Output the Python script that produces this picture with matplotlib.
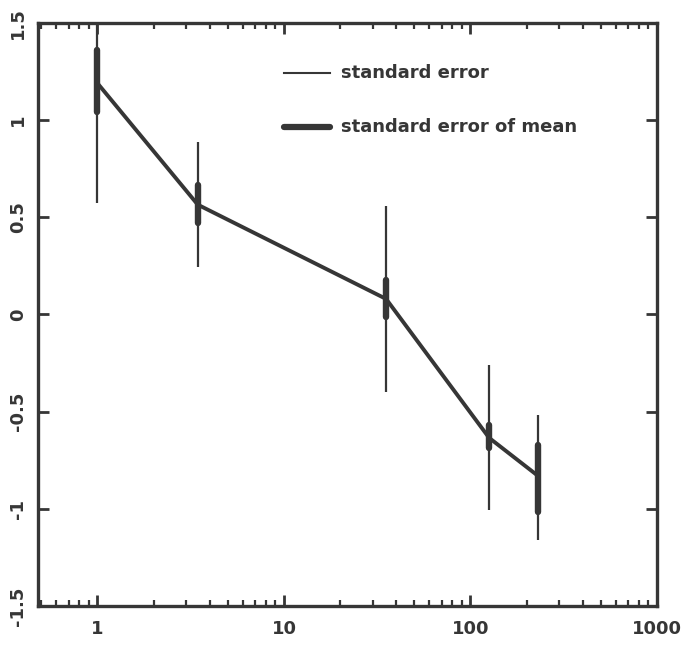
#!/usr/bin/env python3
# Mean value with standard error (thin bar) and standard error of mean (thick bar)
# against a log-scaled x axis.
import numpy as np
import matplotlib.pyplot as plt
from matplotlib.ticker import LogLocator, NullFormatter, FixedLocator

# Values
x = [1.0, 3.45, 35.3, 126.0, 230.0]
mean = [1.19, 0.565, 0.08, -0.635, -0.83]
se_lo = [0.574, 0.244, -0.40, -1.006, -1.161]
se_hi = [1.52, 0.888, 0.558, -0.260, -0.517]
sem_lo = [1.04, 0.47, -0.013, -0.687, -1.017]
sem_hi = [1.36, 0.666, 0.177, -0.569, -0.672]

yticks = [1.5, 1, 0.5, 0, -0.5, -1, -1.5]
ytick_labels = ["1.5", "1", "0.5", "0", "-0.5", "-1", "-1.5"]
xticks = [1, 10, 100, 1000]
xtick_labels = ["1", "10", "100", "1000"]

ink = "#363636"
font = dict(family="DejaVu Sans", weight="bold")

fig = plt.figure(figsize=(6.85, 6.47), dpi=100)
ax = fig.add_axes([0.0555, 0.0634, 0.9035, 0.9011])

ax.set_xscale("log")
ax.set_xlim(0.48, 1000)
ax.set_ylim(-1.5, 1.5)

# thin bars: standard error
ax.vlines(x, se_lo, se_hi, color=ink, lw=1.6, zorder=2)
# thick bars: standard error of mean
ax.vlines(x, sem_lo, sem_hi, color=ink, lw=4.6, capstyle="round", zorder=3)
# the mean line
ax.plot(x, mean, color=ink, lw=2.8, solid_capstyle="round", zorder=4)

# legend drawn by hand like the original
ax.plot([10.0, 17.7], [1.243, 1.243], color=ink, lw=1.5)
ax.plot([10.0, 17.7], [0.965, 0.965], color=ink, lw=4.5, solid_capstyle="round")
ax.text(20.3, 1.243, "standard error", va="center", ha="left", fontsize=13,
        color=ink, **font)
ax.text(20.3, 0.965, "standard error of mean", va="center", ha="left",
        fontsize=13, color=ink, **font)

# ticks
ax.xaxis.set_major_locator(FixedLocator(xticks))
ax.set_xticklabels(xtick_labels, fontsize=13, color=ink, **font)
ax.xaxis.set_minor_locator(LogLocator(base=10, subs=np.arange(2, 10)))
ax.xaxis.set_minor_formatter(NullFormatter())
ax.set_yticks(yticks)
ax.set_yticklabels(ytick_labels, fontsize=13, color=ink, rotation=90,
                   va="center", **font)

ax.tick_params(axis="both", which="major", direction="in", length=8,
               width=2, color=ink, top=True, right=True, pad=8)
ax.tick_params(axis="x", which="minor", direction="in", length=4,
               width=1.6, color=ink, top=True, bottom=True)
ax.tick_params(axis="x", which="major", pad=10)

for s in ax.spines.values():
    s.set_linewidth(2.4)
    s.set_color(ink)

fig.savefig("out.png", dpi=100)
